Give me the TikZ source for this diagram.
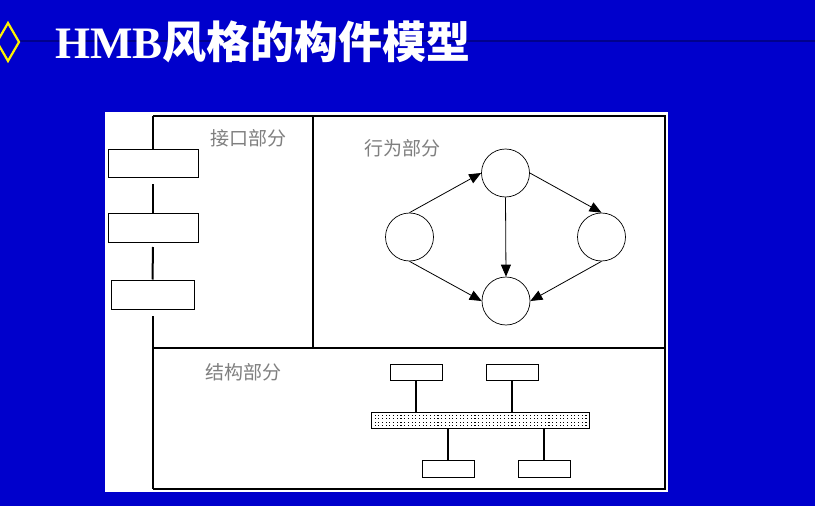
\documentclass[tikz,border=0pt]{standalone}
\usepackage{fontspec}
\setmainfont{Liberation Serif}
\newfontfamily\cjkbold{Noto Sans CJK SC Bold}
\newfontfamily\cjk{Noto Sans CJK SC}
\usetikzlibrary{arrows.meta, positioning}
\definecolor{slideblue}{HTML}{0000CC}
\definecolor{ruleblue}{HTML}{00008C}
\definecolor{labelgray}{HTML}{7F7F7F}

\begin{document}
\begin{tikzpicture}[x=1pt, y=-1pt,
    frame/.style={line width=2pt},
    ibox/.style={draw, line width=1pt, fill=white, inner sep=0pt, minimum width=90pt, minimum height=28pt},
    sbox/.style={draw, line width=1pt, fill=white, inner sep=0pt, minimum width=52pt, minimum height=16pt},
    state/.style={draw, circle, line width=0.7pt, inner sep=0pt, minimum size=48pt},
    flow/.style={-{Triangle[length=12pt, width=10pt]}, line width=0.8pt},
    part/.style={text=labelgray, font=\cjk\fontsize{19}{19}\selectfont, inner sep=0pt}]
  % 背景和标题
  \fill[slideblue] (0,0) rectangle (815,506);
  \useasboundingbox (0,0) rectangle (815,506);
  \draw[ruleblue, line width=2pt] (0,41) -- (815,41);
  \draw[yellow, line width=2.2pt, fill=slideblue] (8,23) -- (19,42) -- (8,61) -- (-3,42) -- cycle;
  \node[anchor=base west, inner sep=0pt, text=white] (title) at (55,58)
    {\fontsize{45}{45}\selectfont\bfseries HMB{\cjkbold\fontsize{44}{44}\selectfont 风格的构件模型}};

  % 白色画板
  \fill[white] (105,112) rectangle (668,492);

  % 外框
  \draw[frame] (153,116) -- (665,116) -- (665,489) -- (153,489);
  \draw[frame] (313,116) -- (313,348);
  \draw[frame] (153,348) -- (665,348);

  % 接口部分
  \node[ibox] (ib1) at (153,163) {};
  \node[ibox, minimum height=29pt] (ib2) at (153,227.5) {};
  \node[ibox, minimum width=83pt, minimum height=29pt] (ib3) at (152.5,294.5) {};
  \coordinate (g0) at (153,116);
  \coordinate (g1) at (153,184);
  \coordinate (g2) at (153,247);
  \coordinate (g3) at (153,316);
  \coordinate (g4) at (153,489);
  \draw[frame] (g0) -- (ib1.north);
  \draw[frame] (g1) -- (ib2.north);
  \draw[frame] (g2) -- (ib3.north);
  \draw[frame] (g3) -- (g4);
  \node[part] (ilabel) at (248,138) {接口部分};

  % 行为部分
  \node[part] (blabel) at (402,148) {行为部分};
  \node[state] (s1) at (505.5,173) {};
  \node[state] (s2) at (409.5,237) {};
  \node[state] (s3) at (601.5,237) {};
  \node[state] (s4) at (506,301) {};
  \draw[flow] (s2.north) -- (s1.west);
  \draw[flow] (s1.east) -- (s3.north);
  \draw[flow] (s1.south) -- (s4.north);
  \draw[flow] (s2.south) -- (s4.west);
  \draw[flow] (s3.south) -- (s4.east);

  % 结构部分
  \node[part] (slabel) at (243,372) {结构部分};
  \node[draw, line width=1pt, fill=white, inner sep=0pt, minimum width=218pt, minimum height=16.5pt] (bus) at (480,420.5) {};
  \foreach \i in {0,...,57} {
    \foreach \j in {0,...,3} {
      \fill (374.5+3.7*\i,414.5+3.6*\j) rectangle ++(1.1,1.1);
    }
  }
  \node[sbox] (sb1) at (416,372) {};
  \node[sbox] (sb2) at (512,372) {};
  \node[sbox, minimum height=17pt] (sb3) at (448,468.5) {};
  \node[sbox, minimum height=17pt] (sb4) at (544,468.5) {};
  \foreach \b in {sb1,sb2} {
    \draw[frame] (\b.south) -- (\b.south |- bus.north);
  }
  \foreach \b in {sb3,sb4} {
    \draw[frame] (\b.north) -- (\b.north |- bus.south);
  }
\end{tikzpicture}
\end{document}
